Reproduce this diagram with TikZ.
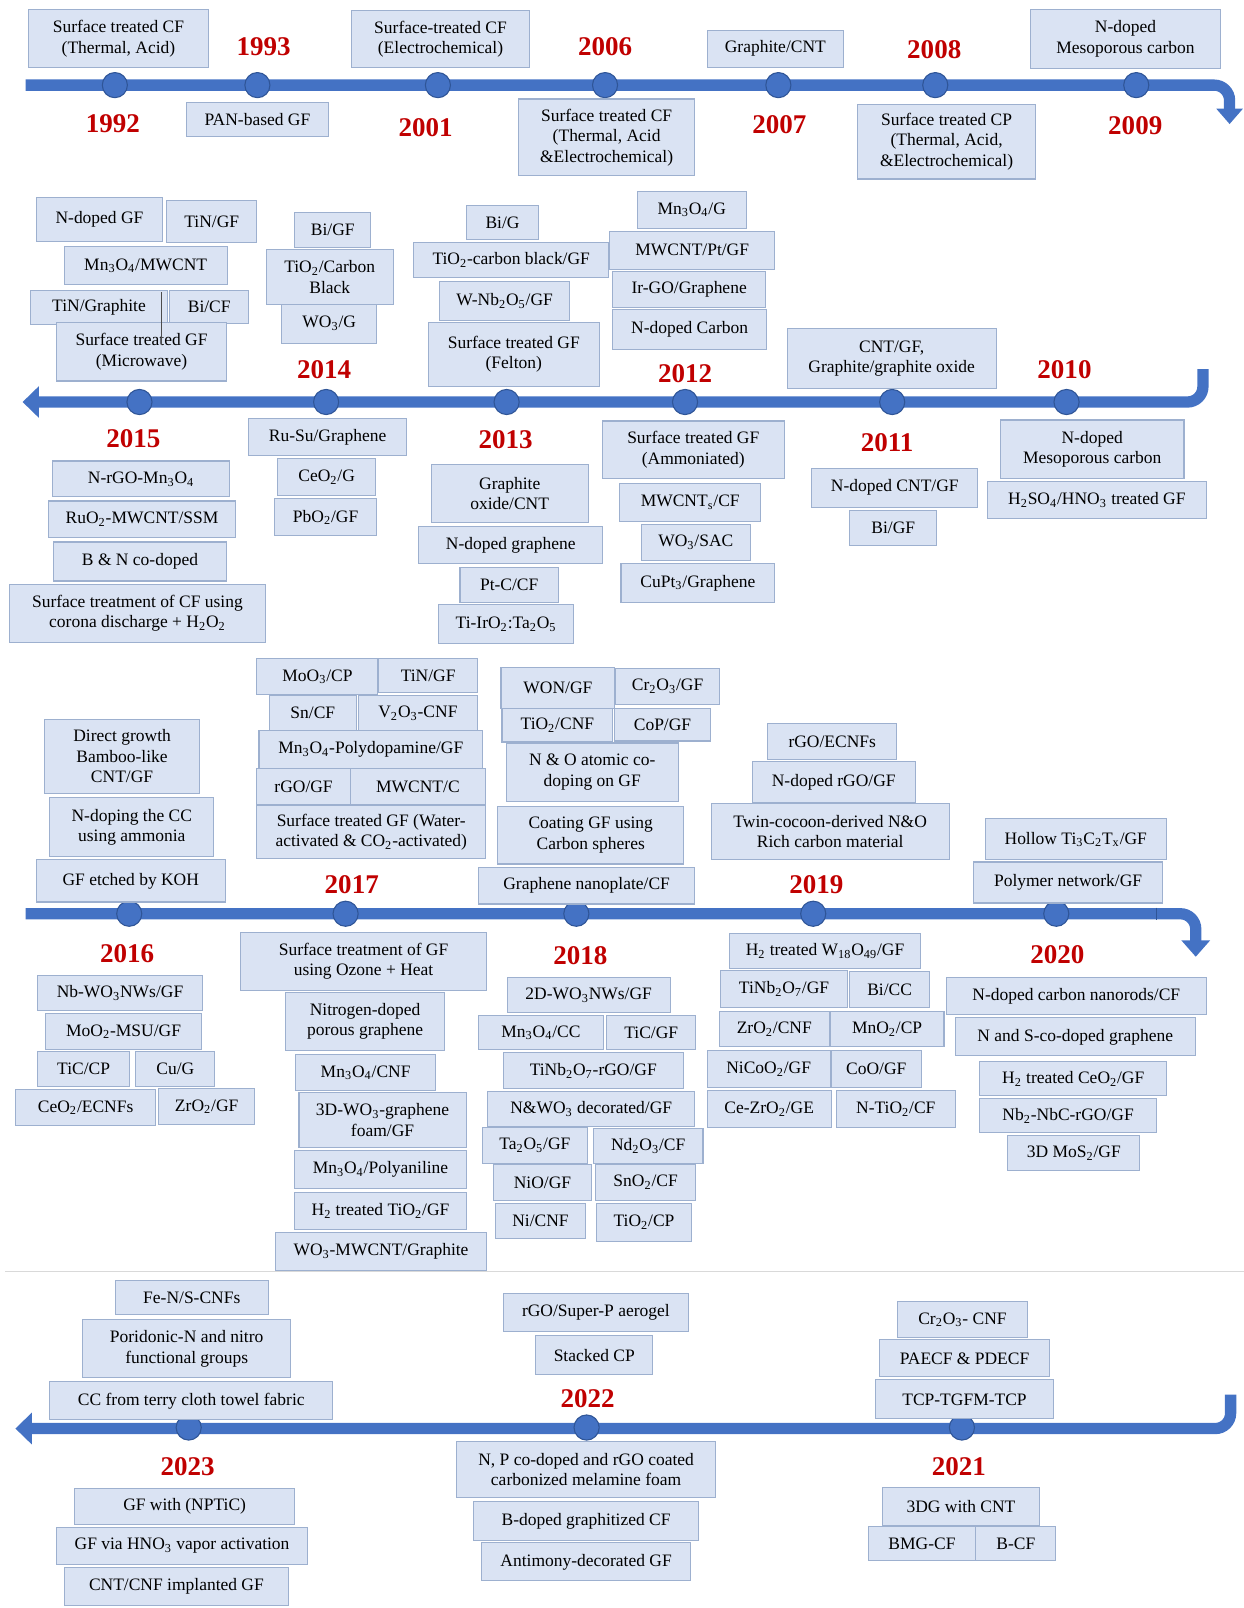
\documentclass[tikz,border=0pt]{standalone}
\usepackage{fontspec}
\setmainfont{Liberation Serif}
\usetikzlibrary{arrows.meta}
\definecolor{boxfill}{HTML}{DAE3F3}
\definecolor{boxline}{HTML}{9DB0CF}
\definecolor{lineblue}{HTML}{4472C4}
\definecolor{dotline}{HTML}{2F5597}
\definecolor{yrred}{HTML}{C00000}
\newcommand{\sbs}[1]{\textsubscript{#1}}
\tikzset{
  box/.style 2 args={draw=boxline, fill=boxfill, line width=0.6pt, anchor=north west,
    minimum width=#1*0.2mm, minimum height=#2*0.2mm, inner sep=1pt, align=center,
    font=\fontsize{9.7}{11.4}\selectfont},
  yr/.style={text=yrred, inner sep=0pt, font=\fontsize{15}{15}\selectfont\bfseries},
  yeardot/.style={circle, draw=dotline, fill=lineblue, line width=0.6pt, minimum size=4.9mm, inner sep=0pt},
  tline/.style={draw=lineblue, line width=2.2mm, rounded corners=3mm},
}

\begin{document}
\begin{tikzpicture}[x=0.2mm, y=-0.2mm]
    \useasboundingbox (0,0) rectangle (1213,1568);

    % time lines
    \coordinate (r1a) at (25,83);
    \coordinate (r1b) at (1199,83);
    \coordinate (r1c) at (1199,121);
    \draw[tline, -{Triangle[width=5mm,length=3mm]}] (r1a) -- (r1b) -- (r1c);
    \coordinate (r2a) at (1173,360);
    \coordinate (r2b) at (1173,392);
    \coordinate (r2c) at (22,392);
    \draw[tline, -{Triangle[width=6mm,length=3.2mm]}] (r2a) -- (r2b) -- (r2c);
    \coordinate (r3a) at (25,891);
    \coordinate (r3b) at (1166,891);
    \coordinate (r3c) at (1166,933);
    \draw[tline, -{Triangle[width=5.4mm,length=3.2mm]}] (r3a) -- (r3b) -- (r3c);
    \coordinate (r4a) at (1200,1360);
    \coordinate (r4b) at (1200,1393);
    \coordinate (r4c) at (15,1393);
    \draw[tline, -{Triangle[width=6mm,length=3.2mm]}] (r4a) -- (r4b) -- (r4c);
    \draw[dotline, line width=0.5pt] (1128,885) -- (1128,897);
    \draw[black!15, line width=0.6pt] (5,1240) -- (1213,1240);

    \foreach \yr/\x in {1992/112, 1993/251, 2001/427, 2006/590, 2007/759, 2008/912, 2009/1108}
      \node[yeardot] (d\yr) at (\x,83) {};
    \foreach \yr/\x in {2015/136, 2014/318, 2013/494, 2012/668, 2011/870, 2010/1040}
      \node[yeardot] (d\yr) at (\x,392) {};
    \foreach \yr/\x in {2016/126, 2017/337, 2018/562, 2019/793, 2020/1030}
      \node[yeardot] (d\yr) at (\x,891) {};
    \foreach \yr/\x in {2023/184, 2022/572, 2021/938}
      \node[yeardot] (d\yr) at (\x,1392) {};

    \foreach \yr/\x/\y in {1992/110/121, 1993/257/46, 2001/415/124, 2006/590/45, 2007/760/122,
        2008/911/48, 2009/1107/123, 2015/130/428, 2014/316/360, 2013/493/429, 2012/668/364,
        2011/865/432, 2010/1038/360, 2016/124/930, 2017/343/863, 2018/566/932, 2019/796/863,
        2020/1031/931, 2023/183/1430, 2022/573/1364, 2021/935/1430}
      \node[yr] (t\yr) at (\x,\y) {\yr};

    % 1992 - 2009
    \node[box={176}{56}] (b92a) at (27,9) {Surface treated CF\\(Thermal, Acid)};
    \node[box={139}{34}] (b93a) at (181,99) {PAN-based GF};
    \node[box={174}{55}] (b01a) at (342,10) {Surface-treated CF\\(Electrochemical)};
    \node[box={172}{75}] (b06a) at (505,96) {Surface treated CF\\(Thermal, Acid\\\&Electrochemical)};
    \node[box={133}{36}] (b07a) at (689,29) {Graphite/CNT};
    \node[box={173}{73}] (b08a) at (836,101) {Surface treated CP\\(Thermal, Acid,\\\&Electrochemical)};
    \node[box={186}{57}] (b09a) at (1004,9) {N-doped\\Mesoporous carbon};

    % 2010 - 2015
    \node[box={123}{43}] (b15a) at (35,192) {N-doped GF};
    \node[box={88}{41}] (b15b) at (162,195) {TiN/GF};
    \node[box={159}{37}] (b15c) at (62,240) {Mn\sbs{3}O\sbs{4}/MWCNT};
    \node[box={134}{33}] (b15d) at (29,283) {TiN/Graphite};
    \node[box={77}{32}] (b15e) at (165,283) {Bi/CF};
    \node[box={165}{57}] (b15f) at (55,314) {Surface treated GF\\(Microwave)};
    \draw[black!70, line width=0.4pt] (157,285) -- (157,336);
    \node[box={74}{34}] (b14a) at (287,207) {Bi/GF};
    \node[box={124}{53}] (b14b) at (259,243) {TiO\sbs{2}/Carbon\\Black};
    \node[box={93}{38}] (b14c) at (274,296) {WO\sbs{3}/G};
    \node[box={71}{33}] (b13a) at (454,200) {Bi/G};
    \node[box={190}{34}] (b13b) at (403,236) {TiO\sbs{2}-carbon black/GF};
    \node[box={127}{38}] (b13c) at (428,274) {W-Nb\sbs{2}O\sbs{5}/GF};
    \node[box={167}{62}] (b13d) at (417,314) {Surface treated GF\\(Felton)};
    \node[box={106}{36}] (b12a) at (621,186) {Mn\sbs{3}O\sbs{4}/G};
    \node[box={161}{37}] (b12b) at (594,225) {MWCNT/Pt/GF};
    \node[box={149}{35}] (b12c) at (597,264) {Ir-GO/Graphene};
    \node[box={150}{39}] (b12d) at (597,301) {N-doped Carbon};
    \node[box={204}{58}] (b11a) at (767,320) {CNT/GF,\\Graphite/graphite oxide};

    \node[box={172}{35}] (b15g) at (51,449) {N-rGO-Mn\sbs{3}O\sbs{4}};
    \node[box={182}{36}] (b15h) at (47,488) {RuO\sbs{2}-MWCNT/SSM};
    \node[box={168}{38}] (b15i) at (52,528) {B \& N co-doped};
    \node[box={249}{57}] (b15j) at (9,569) {Surface treatment of CF using\\corona discharge + H\sbs{2}O\sbs{2}};
    \node[box={154}{36}] (b14d) at (242,408) {Ru-Su/Graphene};
    \node[box={96}{36}] (b14e) at (270,447) {CeO\sbs{2}/G};
    \node[box={100}{36}] (b14f) at (267,486) {PbO\sbs{2}/GF};
    \node[box={153}{57}] (b13e) at (420,452) {Graphite\\oxide/CNT};
    \node[box={179}{36}] (b13f) at (408,513) {N-doped graphene};
    \node[box={96}{34}] (b13g) at (448,553) {Pt-C/CF};
    \node[box={132}{38}] (b13h) at (427,589) {Ti-IrO\sbs{2}:Ta\sbs{2}O\sbs{5}};
    \node[box={177}{56}] (b12e) at (587,410) {Surface treated GF\\(Ammoniated)};
    \node[box={137}{37}] (b12f) at (604,471) {MWCNT\sbs{s}/CF};
    \node[box={106}{35}] (b12g) at (625,511) {WO\sbs{3}/SAC};
    \node[box={150}{38}] (b12h) at (605,549) {CuPt\sbs{3}/Graphene};
    \node[box={162}{38}] (b11b) at (791,456) {N-doped CNT/GF};
    \node[box={85}{34}] (b11c) at (828,497) {Bi/GF};
    \node[box={179}{57}] (b10a) at (975,409) {N-doped\\Mesoporous carbon};
    \node[box={214}{36}] (b10b) at (962,469) {H\sbs{2}SO\sbs{4}/HNO\sbs{3} treated GF};

    % 2016 - 2020
    \node[box={151}{72}] (b16a) at (43,701) {Direct growth\\Bamboo-like\\CNT/GF};
    \node[box={160}{58}] (b16b) at (48,777) {N-doping the CC\\using ammonia};
    \node[box={184}{41}] (b16c) at (35,838) {GF etched by KOH};
    \node[box={118}{35}] (b17a) at (250,642) {MoO\sbs{3}/CP};
    \node[box={96}{33}] (b17b) at (369,642) {TiN/GF};
    \node[box={85}{34}] (b17c) at (262,678) {Sn/CF};
    \node[box={116}{34}] (b17d) at (349,678) {V\sbs{2}O\sbs{3}-CNF};
    \node[box={218}{37}] (b17e) at (252,712) {Mn\sbs{3}O\sbs{4}-Polydopamine/GF};
    \node[box={91}{35}] (b17f) at (250,749) {rGO/GF};
    \node[box={132}{35}] (b17g) at (341,749) {MWCNT/C};
    \node[box={223}{52}] (b17h) at (250,785) {Surface treated GF (Water-\\activated \& CO\sbs{2}-activated)};
    \node[box={111}{40}] (b18a) at (488,650) {WON/GF};
    \node[box={101}{35}] (b18b) at (600,651) {Cr\sbs{2}O\sbs{3}/GF};
    \node[box={108}{33}] (b18c) at (489,690) {TiO\sbs{2}/CNF};
    \node[box={93}{32}] (b18d) at (599,690) {CoP/GF};
    \node[box={168}{57}] (b18e) at (493,724) {N \& O atomic co-\\doping on GF};
    \node[box={181}{56}] (b18f) at (485,786) {Coating GF using\\Carbon spheres};
    \node[box={211}{36}] (b18g) at (466,845) {Graphene nanoplate/CF};
    \node[box={126}{35}] (b19a) at (748,705) {rGO/ECNFs};
    \node[box={159}{40}] (b19b) at (733,742) {N-doped rGO/GF};
    \node[box={232}{55}] (b19c) at (693,783) {Twin-cocoon-derived N\&O\\Rich carbon material};
    \node[box={177}{40}] (b20a) at (960,798) {Hollow Ti\sbs{3}C\sbs{2}T\sbs{x}/GF};
    \node[box={184}{40}] (b20b) at (949,840) {Polymer network/GF};

    \node[box={161}{34}] (b16d) at (36,951) {Nb-WO\sbs{3}NWs/GF};
    \node[box={152}{35}] (b16e) at (44,988) {MoO\sbs{2}-MSU/GF};
    \node[box={90}{34}] (b16f) at (36,1025) {TiC/CP};
    \node[box={77}{34}] (b16g) at (132,1025) {Cu/G};
    \node[box={136}{35}] (b16h) at (15,1062) {CeO\sbs{2}/ECNFs};
    \node[box={94}{35}] (b16i) at (154,1061) {ZrO\sbs{2}/GF};
    \node[box={240}{56}] (b17i) at (234,909) {Surface treatment of GF\\using Ozone + Heat};
    \node[box={155}{57}] (b17j) at (278,967) {Nitrogen-doped\\porous graphene};
    \node[box={136}{35}] (b17k) at (288,1028) {Mn\sbs{3}O\sbs{4}/CNF};
    \node[box={163}{53}] (b17l) at (291,1065) {3D-WO\sbs{3}-graphene\\foam/GF};
    \node[box={167}{37}] (b17m) at (287,1121) {Mn\sbs{3}O\sbs{4}/Polyaniline};
    \node[box={167}{36}] (b17n) at (287,1162) {H\sbs{2} treated TiO\sbs{2}/GF};
    \node[box={206}{37}] (b17o) at (268,1201) {WO\sbs{3}-MWCNT/Graphite};
    \node[box={159}{34}] (b18h) at (494,953) {2D-WO\sbs{3}NWs/GF};
    \node[box={122}{33}] (b18i) at (466,990) {Mn\sbs{3}O\sbs{4}/CC};
    \node[box={87}{33}] (b18j) at (591,990) {TiC/GF};
    \node[box={176}{35}] (b18k) at (490,1026) {TiNb\sbs{2}O\sbs{7}-rGO/GF};
    \node[box={202}{34}] (b18l) at (475,1064) {N\&WO\sbs{3} decorated/GF};
    \node[box={102}{35}] (b18m) at (470,1099) {Ta\sbs{2}O\sbs{5}/GF};
    \node[box={107}{34}] (b18n) at (578,1100) {Nd\sbs{2}O\sbs{3}/CF};
    \node[box={95}{35}] (b18o) at (481,1135) {NiO/GF};
    \node[box={98}{35}] (b18p) at (580,1135) {SnO\sbs{2}/CF};
    \node[box={87}{34}] (b18q) at (483,1173) {Ni/CNF};
    \node[box={93}{37}] (b18r) at (581,1173) {TiO\sbs{2}/CP};
    \node[box={186}{34}] (b19d) at (711,910) {H\sbs{2} treated W\sbs{18}O\sbs{49}/GF};
    \node[box={124}{36}] (b19e) at (702,946) {TiNb\sbs{2}O\sbs{7}/GF};
    \node[box={78}{35}] (b19f) at (828,947) {Bi/CC};
    \node[box={107}{34}] (b19g) at (701,986) {ZrO\sbs{2}/CNF};
    \node[box={111}{34}] (b19h) at (809,986) {MnO\sbs{2}/CP};
    \node[box={120}{36}] (b19i) at (689,1024) {NiCoO\sbs{2}/GF};
    \node[box={88}{36}] (b19j) at (810,1024) {CoO/GF};
    \node[box={121}{36}] (b19k) at (689,1063) {Ce-ZrO\sbs{2}/GE};
    \node[box={116}{36}] (b19l) at (815,1063) {N-TiO\sbs{2}/CF};
    \node[box={254}{36}] (b20c) at (922,953) {N-doped carbon nanorods/CF};
    \node[box={234}{37}] (b20d) at (931,992) {N and S-co-doped graphene};
    \node[box={182}{33}] (b20e) at (955,1035) {H\sbs{2} treated CeO\sbs{2}/GF};
    \node[box={172}{33}] (b20f) at (955,1071) {Nb\sbs{2}-NbC-rGO/GF};
    \node[box={129}{34}] (b20g) at (982,1107) {3D MoS\sbs{2}/GF};

    % 2021 - 2023
    \node[box={149}{33}] (b23a) at (112,1248) {Fe-N/S-CNFs};
    \node[box={203}{57}] (b23b) at (80,1286) {Poridonic-N and nitro\\functional groups};
    \node[box={276}{37}] (b23c) at (48,1347) {CC from terry cloth towel fabric};
    \node[box={181}{37}] (b22a) at (490,1261) {rGO/Super-P aerogel};
    \node[box={114}{38}] (b22b) at (522,1302) {Stacked CP};
    \node[box={126}{35}] (b21a) at (875,1269) {Cr\sbs{2}O\sbs{3}- CNF};
    \node[box={166}{36}] (b21b) at (857,1306) {PAECF \& PDECF};
    \node[box={174}{38}] (b21c) at (853,1345) {TCP-TGFM-TCP};
    \node[box={215}{35}] (b23d) at (72,1451) {GF with (NPTiC)};
    \node[box={244}{36}] (b23e) at (55,1489) {GF via HNO\sbs{3} vapor activation};
    \node[box={219}{37}] (b23f) at (62,1528) {CNT/CNF implanted GF};
    \node[box={252}{55}] (b22c) at (445,1405) {N, P co-doped and rGO coated\\carbonized melamine foam};
    \node[box={220}{38}] (b22d) at (461,1464) {B-doped graphitized CF};
    \node[box={204}{37}] (b22e) at (469,1504) {Antimony-decorated GF};
    \node[box={153}{37}] (b21d) at (860,1450) {3DG with CNT};
    \node[box={105}{33}] (b21e) at (846,1488) {BMG-CF};
    \node[box={78}{33}] (b21f) at (951,1488) {B-CF};
\end{tikzpicture}
\end{document}
